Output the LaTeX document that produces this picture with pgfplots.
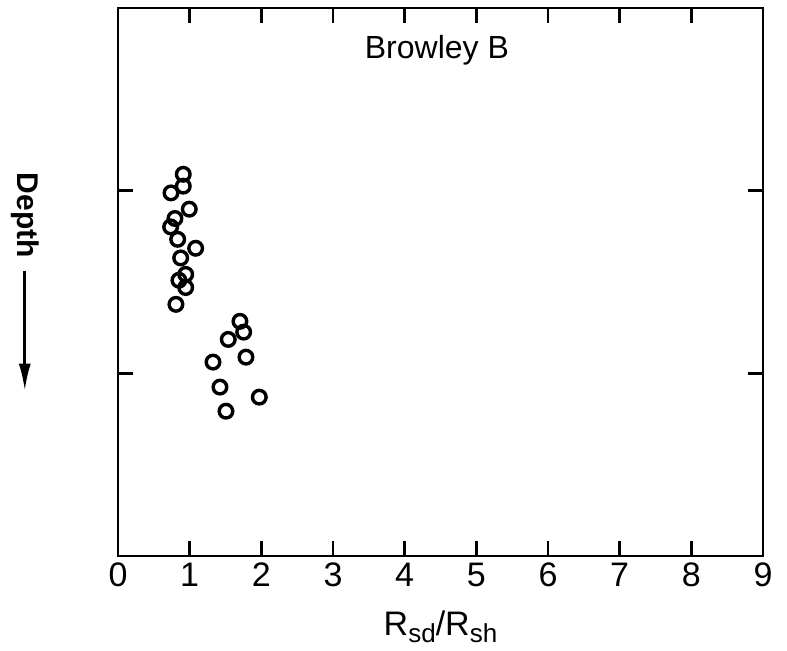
\documentclass[border=0pt]{standalone}
\usepackage{fontspec}
\setmainfont{Liberation Sans}
\usepackage{pgfplots}
\pgfplotsset{compat=1.18}
\usetikzlibrary{arrows.meta}

\newcommand{\sub}[1]{\raisebox{-0.4ex}{\fontsize{13}{15}\selectfont #1}}

\begin{document}
\begin{tikzpicture}
\begin{axis}[
  width=322.5pt, height=274pt, scale only axis,
  xmin=0, xmax=9, ymin=0, ymax=3,
  y dir=reverse,
  xtick={0,1,...,9},
  ytick={1,2}, yticklabels={},
  tick align=inside,
  major tick length=7.5pt,
  every tick/.style={line width=1.4pt, black},
  axis line style={line width=1.4pt},
  x tick label style={font=\fontsize{17}{20}\selectfont},
  /pgf/number format/assume math mode=true,
  xlabel={\fontsize{17}{20}\selectfont R\sub{sd}/R\sub{sh}},
  xlabel style={yshift=-5pt},
  clip=false,
]
\addplot[only marks, mark=o, mark size=3.4pt, line width=1.7pt] coordinates {
  (0.911,0.910) (0.911,0.975) (0.740,1.012) (0.995,1.101)
  (0.795,1.152) (0.735,1.198) (0.833,1.266) (1.084,1.315)
  (0.875,1.368) (0.945,1.458) (0.851,1.490) (0.945,1.530)
  (0.809,1.622) (1.702,1.715) (1.754,1.774) (1.539,1.814)
  (1.786,1.911) (1.326,1.938) (1.423,2.075) (1.972,2.130)
  (1.507,2.207)
};
\node[font=\fontsize{16}{19}\selectfont] at (axis cs:4.45,0.23) {Browley B};
\node[rotate=-90, font=\fontsize{15}{18}\selectfont\bfseries] at (axis cs:-1.30,1.134) {Depth};
\draw[line width=1.6pt, -{Latex[length=14pt,width=6pt]}] (axis cs:-1.30,1.44) -- (axis cs:-1.30,2.10);
\path (axis cs:-1.646,-0.044) rectangle (axis cs:9.335,3.518);
\end{axis}
\end{tikzpicture}
\end{document}
